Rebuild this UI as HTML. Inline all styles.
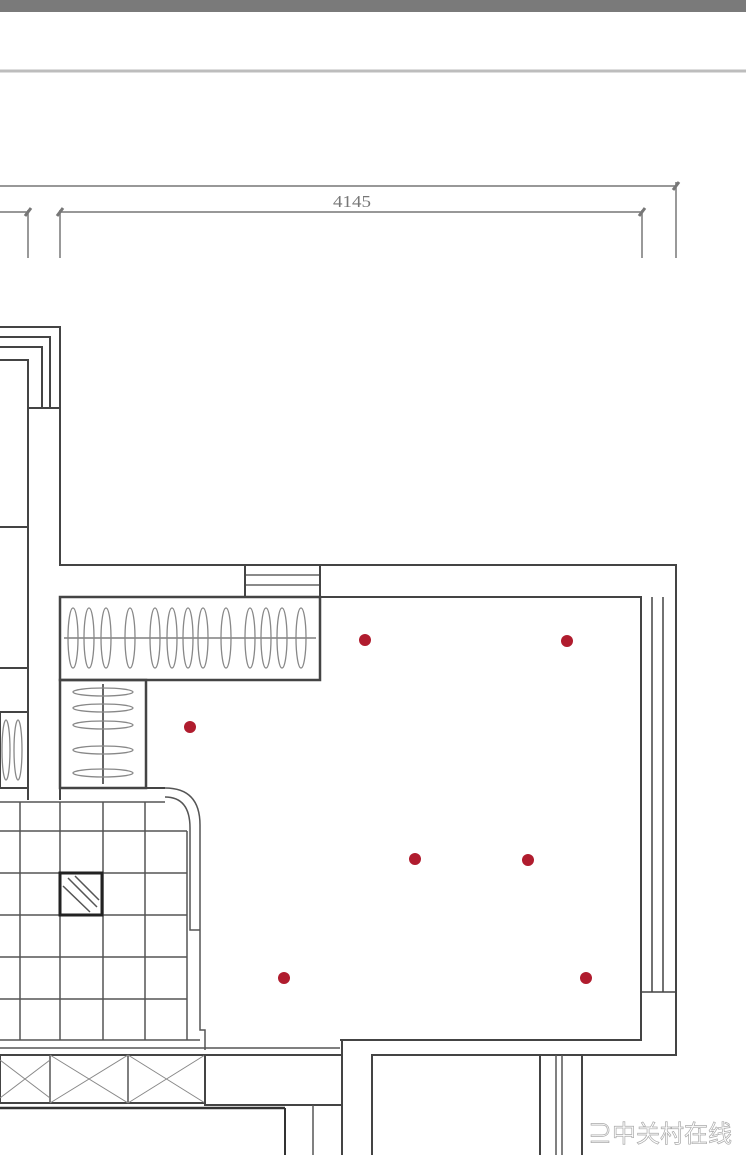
<!DOCTYPE html>
<html><head><meta charset="utf-8"><style>
html,body{margin:0;padding:0;background:#fff;}
svg{display:block;}
</style></head><body>
<svg width="746" height="1155" viewBox="0 0 746 1155" xmlns="http://www.w3.org/2000/svg">
<rect x="0" y="0" width="746" height="12" fill="#7a7a7a"/>
<line x1="0" y1="71" x2="746" y2="71" stroke="#bdbdbd" stroke-width="3"/>
<g stroke="#777" stroke-width="1.5" fill="none">
<line x1="0" y1="186" x2="677" y2="186"/>
<line x1="0" y1="212" x2="29" y2="212"/>
<line x1="60" y1="212" x2="643" y2="212"/>
<line x1="28" y1="210" x2="28" y2="258"/>
<line x1="60" y1="210" x2="60" y2="258"/>
<line x1="642" y1="210" x2="642" y2="258"/>
<line x1="676" y1="182" x2="676" y2="258"/>
<line x1="25" y1="216" x2="31" y2="208" stroke-width="3"/>
<line x1="57" y1="216" x2="63" y2="208" stroke-width="3"/>
<line x1="639" y1="216" x2="645" y2="208" stroke-width="3"/>
<line x1="673" y1="190" x2="679" y2="182" stroke-width="3"/>
</g>
<text x="352" y="207" font-family="Liberation Serif, serif" font-size="17" fill="#777" text-anchor="middle" textLength="38" lengthAdjust="spacingAndGlyphs">4145</text>
<g stroke="#444" stroke-width="2" fill="none">
<polyline points="0,327 60,327 60,565 676,565 676,1055 372,1055 372,1155"/>
<polyline points="0,337 50,337 50,408"/>
<polyline points="0,347 42,347 42,408"/>
<polyline points="0,360 28,360 28,800"/>
<line x1="28" y1="408" x2="60" y2="408"/>
<line x1="0" y1="527" x2="28" y2="527"/>
<line x1="0" y1="668" x2="28" y2="668"/>
<rect x="0" y="712" width="28" height="76"/>
<line x1="60" y1="597" x2="60" y2="800"/>
<line x1="245" y1="565" x2="245" y2="597"/>
<line x1="320" y1="565" x2="320" y2="597"/>
<line x1="245" y1="575" x2="320" y2="575" stroke-width="1.2"/>
<line x1="245" y1="585" x2="320" y2="585" stroke-width="1.2"/>
<rect x="60" y="597" width="260" height="83" stroke-width="2.5"/>
<rect x="60" y="680" width="86" height="108" stroke-width="2.5"/>
<polyline points="320,597 641,597 641,1040 340,1040"/>
<line x1="60" y1="788" x2="165" y2="788"/>
<line x1="652" y1="597" x2="652" y2="992" stroke-width="1.5"/>
<line x1="663" y1="597" x2="663" y2="992" stroke-width="1.5"/>
<line x1="641" y1="992" x2="676" y2="992" stroke-width="1.5"/>
</g>
<g stroke="#888" stroke-width="1.3" fill="none">
<line x1="64" y1="638" x2="316" y2="638" stroke="#666"/>
<ellipse cx="73" cy="638" rx="5" ry="30"/><ellipse cx="89" cy="638" rx="5" ry="30"/><ellipse cx="106" cy="638" rx="5" ry="30"/>
<ellipse cx="130" cy="638" rx="5" ry="30"/><ellipse cx="155" cy="638" rx="5" ry="30"/><ellipse cx="172" cy="638" rx="5" ry="30"/>
<ellipse cx="188" cy="638" rx="5" ry="30"/><ellipse cx="203" cy="638" rx="5" ry="30"/><ellipse cx="226" cy="638" rx="5" ry="30"/>
<ellipse cx="250" cy="638" rx="5" ry="30"/><ellipse cx="266" cy="638" rx="5" ry="30"/><ellipse cx="282" cy="638" rx="5" ry="30"/>
<ellipse cx="301" cy="638" rx="5" ry="30"/>
<line x1="103" y1="684" x2="103" y2="784" stroke="#666" stroke-width="2"/>
<ellipse cx="103" cy="692" rx="30" ry="4"/><ellipse cx="103" cy="708" rx="30" ry="4"/><ellipse cx="103" cy="725" rx="30" ry="4"/>
<ellipse cx="103" cy="750" rx="30" ry="4"/><ellipse cx="103" cy="773" rx="30" ry="4"/>
<ellipse cx="6" cy="750" rx="4" ry="30"/><ellipse cx="18" cy="750" rx="4" ry="30"/>
</g>
<g stroke="#555" stroke-width="1.5" fill="none">
<line x1="20" y1="802" x2="20" y2="1040"/><line x1="60" y1="802" x2="60" y2="1040"/>
<line x1="103" y1="802" x2="103" y2="1040"/><line x1="145" y1="802" x2="145" y2="1040"/>
<line x1="0" y1="802" x2="165" y2="802"/>
<line x1="0" y1="831" x2="187" y2="831"/><line x1="0" y1="873" x2="187" y2="873"/>
<line x1="0" y1="915" x2="187" y2="915"/><line x1="0" y1="957" x2="187" y2="957"/>
<line x1="0" y1="999" x2="187" y2="999"/><line x1="0" y1="1040" x2="200" y2="1040"/>
<line x1="187" y1="831" x2="187" y2="1040"/>
<path d="M165,788 Q200,788 200,825 L200,1030 L205,1030 L205,1050"/>
<path d="M165,797 Q190,797 190,828 L190,930 L200,930"/>
<rect x="60" y="873" width="42" height="42" stroke="#222" stroke-width="3"/>
<line x1="68" y1="878" x2="97" y2="907"/><line x1="63" y1="886" x2="90" y2="912"/><line x1="75" y1="876" x2="99" y2="900"/>
<line x1="0" y1="1048" x2="340" y2="1048"/>
<rect x="0" y="1055" width="205" height="48" stroke="#444" stroke-width="2"/>
<line x1="50" y1="1055" x2="50" y2="1103"/><line x1="128" y1="1055" x2="128" y2="1103"/>
<path d="M0,1060 L50,1098 M0,1098 L50,1060 M50,1055 L128,1103 M50,1103 L128,1055 M128,1055 L205,1103 M128,1103 L205,1055" stroke="#888" stroke-width="1"/>
<rect x="205" y="1055" width="137" height="50" stroke="#444" stroke-width="2"/>
<line x1="0" y1="1108" x2="285" y2="1108" stroke="#333" stroke-width="2.5"/>
<line x1="285" y1="1108" x2="285" y2="1155" stroke="#333" stroke-width="2"/>
<line x1="313" y1="1105" x2="313" y2="1155"/><line x1="342" y1="1040" x2="342" y2="1155" stroke="#444" stroke-width="2"/>
<line x1="540" y1="1055" x2="540" y2="1155" stroke="#444" stroke-width="2"/>
<line x1="556" y1="1055" x2="556" y2="1155"/><line x1="562" y1="1055" x2="562" y2="1155"/>
<line x1="582" y1="1055" x2="582" y2="1155" stroke="#444" stroke-width="2"/>
</g>
<g fill="#b01c2e">
<circle cx="365" cy="640" r="6"/><circle cx="567" cy="641" r="6"/><circle cx="190" cy="727" r="6"/>
<circle cx="415" cy="859" r="6"/><circle cx="528" cy="860" r="6"/><circle cx="284" cy="978" r="6"/><circle cx="586" cy="978" r="6"/>
</g>
<text x="588" y="1142" font-family="Liberation Sans, Noto Sans CJK SC, sans-serif" font-size="24" fill="#fff" stroke="#aaa" stroke-width="0.7">⊇中关村在线</text>
</svg>
</body></html>
